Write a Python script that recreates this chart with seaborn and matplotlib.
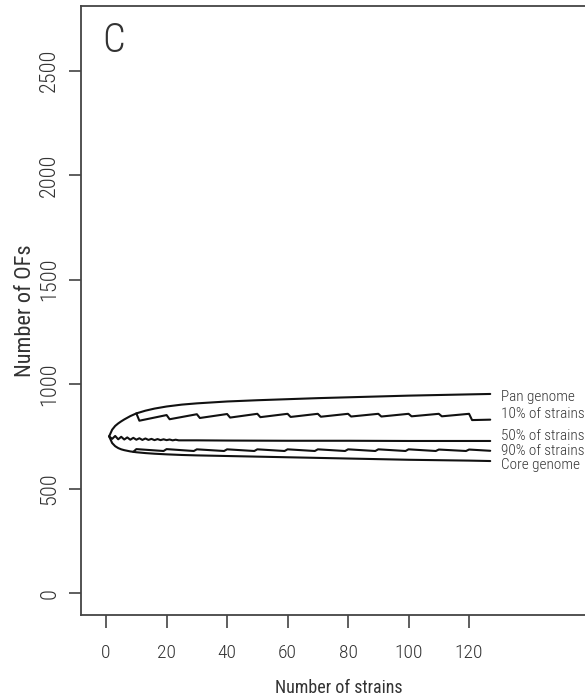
import pandas as pd
import seaborn as sns
import matplotlib.pyplot as plt
import matplotlib as mpl

# values
pan_x = [1, 2, 3, 4, 5, 6, 8, 10, 13, 16, 20, 25, 30, 40, 50, 60, 70, 80, 90, 100, 110, 120, 127]
pan_y = [750, 782, 800, 812, 822, 831, 847, 860, 873, 883, 893, 902, 908, 917, 923, 928, 933, 937, 941, 945, 948, 951, 953]

core_x = [1, 2, 3, 4, 5, 6, 8, 10, 13, 16, 20, 25, 30, 40, 50, 60, 70, 80, 90, 100, 110, 120, 127]
core_y = [750, 718, 703, 694, 688, 684, 678, 674, 670, 667, 664, 661, 659, 656, 653, 650, 647, 644, 641, 638, 636, 634, 632]

p10_x = [10, 11, 20, 21, 30, 31, 40, 41, 50, 51, 60, 61, 70, 71, 80, 81, 90, 91, 100, 101, 110, 111, 120, 121, 127]
p10_y = [860, 825, 852, 832, 856, 838, 857, 840, 858, 842, 858, 843, 858, 844, 858, 845, 858, 845, 858, 846, 858, 846, 858, 828, 830]

p50_x = [1, 2, 3, 4, 5, 6, 7, 8, 9, 10, 11, 12, 13, 14, 15, 16, 17, 18, 19, 20, 21, 22, 23, 24, 30, 40, 60, 80, 100, 127]
p50_y = [750, 738, 752, 736, 748, 735, 745, 734, 743, 734, 741, 733, 740, 733, 738, 732, 737, 732, 736, 732, 735, 731, 734, 731, 731, 730, 729, 729, 728, 728]

p90_x = [9, 10, 19, 20, 29, 30, 39, 40, 49, 50, 59, 60, 69, 70, 79, 80, 89, 90, 99, 100, 109, 110, 119, 120, 127]
p90_y = [676, 689, 680, 689, 680, 688, 680, 688, 680, 688, 680, 688, 680, 688, 680, 688, 680, 688, 680, 688, 680, 687, 680, 687, 681]

series_names = ["Pan genome", "10% of strains", "50% of strains", "90% of strains", "Core genome"]
label_y = [937, 855, 750, 680, 611]

x_ticks = [0, 20, 40, 60, 80, 100, 120]
y_ticks = [0, 500, 1000, 1500, 2000, 2500]

sns.set_style("ticks")
mpl.rcParams['font.family'] = ['Liberation Sans Narrow', 'DejaVu Sans Condensed',
                               'Roboto Condensed', 'Liberation Sans', 'DejaVu Sans']
mpl.rcParams['font.weight'] = 'light'

fig = plt.figure(figsize=(5.85, 7.0), dpi=100)
ax = fig.add_axes([81 / 585, 85 / 700, 516 / 585, 609 / 700])

ink = "#333333"
for xs, ys in [(pan_x, pan_y), (p10_x, p10_y), (p50_x, p50_y), (p90_x, p90_y), (core_x, core_y)]:
    df = pd.DataFrame({"n": xs, "ofs": ys})
    sns.lineplot(data=df, x="n", y="ofs", color="#111111", linewidth=1.5,
                 estimator=None, sort=False, ax=ax)

for name, yv in zip(series_names, label_y):
    ax.text(130.5, yv, name, ha="left", va="center", fontsize=11, color=ink)

ax.set_xlim(-8.3, 162.3)
ax.set_ylim(-105, 2810)
ax.set_xticks(x_ticks)
ax.set_yticks(y_ticks)
ax.tick_params(axis="both", colors=ink, length=9, width=1.1)
ax.tick_params(axis="x", pad=12, labelsize=14)
ax.tick_params(axis="y", pad=6, labelrotation=90, labelsize=16)
for lbl in ax.get_yticklabels():
    lbl.set_va("center")

for s in ax.spines.values():
    s.set_color("#444444")
    s.set_linewidth(1.3)

ax.set_xlabel("Number of strains", fontsize=13, color=ink)
ax.set_ylabel("Number of OFs", fontsize=16, color=ink)
ax.xaxis.label.set_va("center")
ax.yaxis.label.set_va("center")
ax.xaxis.set_label_coords(0.5, -0.12)
ax.yaxis.set_label_coords(-0.1085, 0.5)

ax.text(0.064, 0.9425, "C", transform=ax.transAxes, fontsize=29,
        ha="center", va="center", color=ink)

plt.savefig("out.png", dpi=100)
